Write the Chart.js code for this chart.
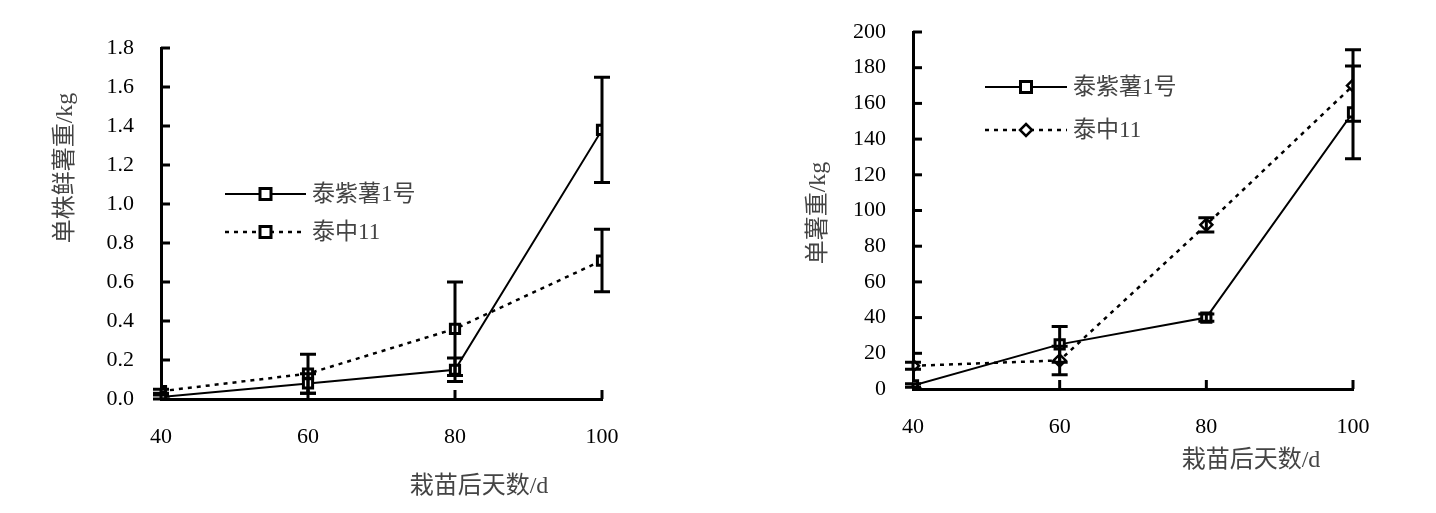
<!DOCTYPE html>
<html>
<head>
<meta charset="utf-8">
<script src="https://cdn.jsdelivr.net/npm/chart.js@4/dist/chart.umd.min.js"></script>
<style>
  body { margin: 0; background: #fff; }
  #wrap { position: relative; width: 1436px; height: 513px; }
  canvas { position: absolute; top: 0; }
</style>
</head>
<body>
<div id="wrap">
  <canvas id="leftChart" width="718" height="513" style="left:0"></canvas>
  <canvas id="rightChart" width="718" height="513" style="left:718px"></canvas>
</div>
<script>
// data
const days = [40, 60, 80, 100];
const seriesNames = ['泰紫薯1号', '泰中11'];

// left: 单株鲜薯重/kg
const leftPurple = [0.01, 0.08, 0.15, 1.38];
const leftPurpleErr = [0.01, 0.05, 0.06, 0.27];
const leftTz = [0.04, 0.13, 0.36, 0.71];
const leftTzErr = [0.01, 0.10, 0.24, 0.16];

// right: 单薯重/kg
const rightPurple = [2, 25, 40, 155];
const rightPurpleErr = [1, 10, 2, 26];
const rightTz = [13, 16, 92, 170];
const rightTzErr = [2, 8, 4, 20];

const FONT = '"Liberation Serif", "Noto Sans CJK SC", serif';

function pts(vals) {
    return days.map((d, i) => ({ x: d, y: vals[i] }));
}

// ticks inward, error bars, legend and axis titles
const decor = {
    id: 'decor',
    afterDatasetsDraw(chart, args, o) {
        const ctx = chart.ctx;
        const xs = chart.scales.x, ys = chart.scales.y;
        ctx.save();
        ctx.strokeStyle = '#000';
        ctx.lineWidth = 3;
        ctx.setLineDash([]);
        ys.ticks.forEach(t => {
            const py = ys.getPixelForValue(t.value);
            ctx.beginPath(); ctx.moveTo(xs.left, py); ctx.lineTo(xs.left + 9, py); ctx.stroke();
        });
        xs.ticks.forEach(t => {
            if (t.value === xs.min) return;
            const px = xs.getPixelForValue(t.value);
            ctx.beginPath(); ctx.moveTo(px, ys.bottom); ctx.lineTo(px, ys.bottom - 9); ctx.stroke();
        });

        // error bars
        o.errors.forEach((errs, di) => {
            const ds = chart.data.datasets[di];
            ds.data.forEach((p, i) => {
                const px = xs.getPixelForValue(p.x);
                const top = ys.getPixelForValue(p.y + errs[i]);
                const bot = ys.getPixelForValue(Math.max(0, p.y - errs[i]));
                ctx.beginPath();
                ctx.moveTo(px, top); ctx.lineTo(px, bot);
                ctx.moveTo(px - 8, top); ctx.lineTo(px + 8, top);
                ctx.moveTo(px - 8, bot); ctx.lineTo(px + 8, bot);
                ctx.stroke();
            });
        });

        // legend
        const lg = o.legend;
        chart.data.datasets.forEach((ds, i) => {
            const ly = lg.y + i * lg.gap;
            ctx.lineWidth = ds.borderWidth;
            ctx.setLineDash(ds.borderDash || []);
            ctx.beginPath(); ctx.moveTo(lg.x, ly); ctx.lineTo(lg.x + lg.len, ly); ctx.stroke();
            ctx.setLineDash([]);
            const mx = lg.x + lg.len / 2;
            ctx.fillStyle = '#fff';
            ctx.lineWidth = ds.pointBorderWidth;
            ctx.beginPath();
            if (ds.pointStyle === 'rectRot') {
                ctx.moveTo(mx, ly - 6); ctx.lineTo(mx + 6, ly); ctx.lineTo(mx, ly + 6); ctx.lineTo(mx - 6, ly); ctx.closePath();
            } else {
                ctx.rect(mx - 5.5, ly - 5.5, 11, 11);
            }
            ctx.fill(); ctx.stroke();
            ctx.fillStyle = '#444';
            ctx.font = '23px ' + FONT;
            ctx.textAlign = 'left';
            ctx.textBaseline = 'middle';
            ctx.fillText(ds.label, lg.x + lg.len + 6, ly + 1);
        });

        // axis titles
        ctx.fillStyle = '#444';
        ctx.font = '24px ' + FONT;
        ctx.textAlign = 'center';
        ctx.textBaseline = 'middle';
        ctx.fillText(o.xTitle.text, o.xTitle.x, o.xTitle.y);
        ctx.translate(o.yTitle.x, o.yTitle.y);
        ctx.rotate(-Math.PI / 2);
        ctx.fillText(o.yTitle.text, 0, 0);
        ctx.restore();
    }
};

function makeChart(id, a, aErr, b, bErr, yMax, yStep, dec, pad, decorOpts, bStyle) {
    const ctx = document.getElementById(id).getContext('2d');
    return new Chart(ctx, {
        type: 'line',
        data: {
            datasets: [{
                label: seriesNames[0],
                data: pts(a),
                borderColor: '#000',
                borderWidth: 2,
                pointStyle: 'rect',
                pointRadius: 6.5,
                pointBorderWidth: 3,
                pointBackgroundColor: '#fff',
                pointBorderColor: '#000',
                tension: 0
            }, {
                label: seriesNames[1],
                data: pts(b),
                borderColor: '#000',
                borderWidth: 2.5,
                borderDash: [4, 5],
                pointStyle: bStyle,
                pointRadius: bStyle === 'rect' ? 6.5 : 6,
                pointBorderWidth: bStyle === 'rect' ? 3 : 2.5,
                pointBackgroundColor: '#fff',
                pointBorderColor: '#000',
                tension: 0
            }]
        },
        options: {
            responsive: false,
            animation: false,
            devicePixelRatio: 1,
            layout: { padding: pad },
            plugins: {
                legend: { display: false },
                tooltip: { enabled: false },
                decor: decorOpts
            },
            scales: {
                x: {
                    type: 'linear',
                    min: 40,
                    max: 100,
                    afterFit: s => { s.height = pad.xh; s.paddingLeft = 0; s.paddingRight = 0; },
                    ticks: { stepSize: 20, padding: 25, color: '#000', font: { family: FONT, size: 22 } },
                    grid: { display: false, drawTicks: false },
                    border: { display: true, color: '#000', width: 3 }
                },
                y: {
                    min: 0,
                    max: yMax,
                    afterFit: s => { s.width = pad.yw; s.paddingTop = 0; s.paddingBottom = 0; },
                    ticks: {
                        stepSize: yStep,
                        padding: 27,
                        color: '#000',
                        font: { family: FONT, size: 22 },
                        callback: v => v.toFixed(dec)
                    },
                    grid: { display: false, drawTicks: false },
                    border: { display: true, color: '#000', width: 3 }
                }
            }
        },
        plugins: [decor]
    });
}

makeChart('leftChart', leftPurple, leftPurpleErr, leftTz, leftTzErr, 1.8, 0.2, 1,
    { left: 0, right: 116, top: 48, bottom: 0, xh: 114, yw: 161 },
    {
        errors: [leftPurpleErr, leftTzErr],
        legend: { x: 225, y: 194, gap: 38, len: 81 },
        xTitle: { text: '栽苗后天数/d', x: 479, y: 487 },
        yTitle: { text: '单株鲜薯重/kg', x: 66, y: 168 }
    }, 'rect');

makeChart('rightChart', rightPurple, rightPurpleErr, rightTz, rightTzErr, 200, 20, 0,
    { left: 0, right: 83, top: 32, bottom: 0, xh: 124, yw: 195 },
    {
        errors: [rightPurpleErr, rightTzErr],
        legend: { x: 267, y: 87, gap: 43, len: 82 },
        xTitle: { text: '栽苗后天数/d', x: 533, y: 461 },
        yTitle: { text: '单薯重/kg', x: 101, y: 213 }
    }, 'rectRot');
</script>
</body>
</html>
